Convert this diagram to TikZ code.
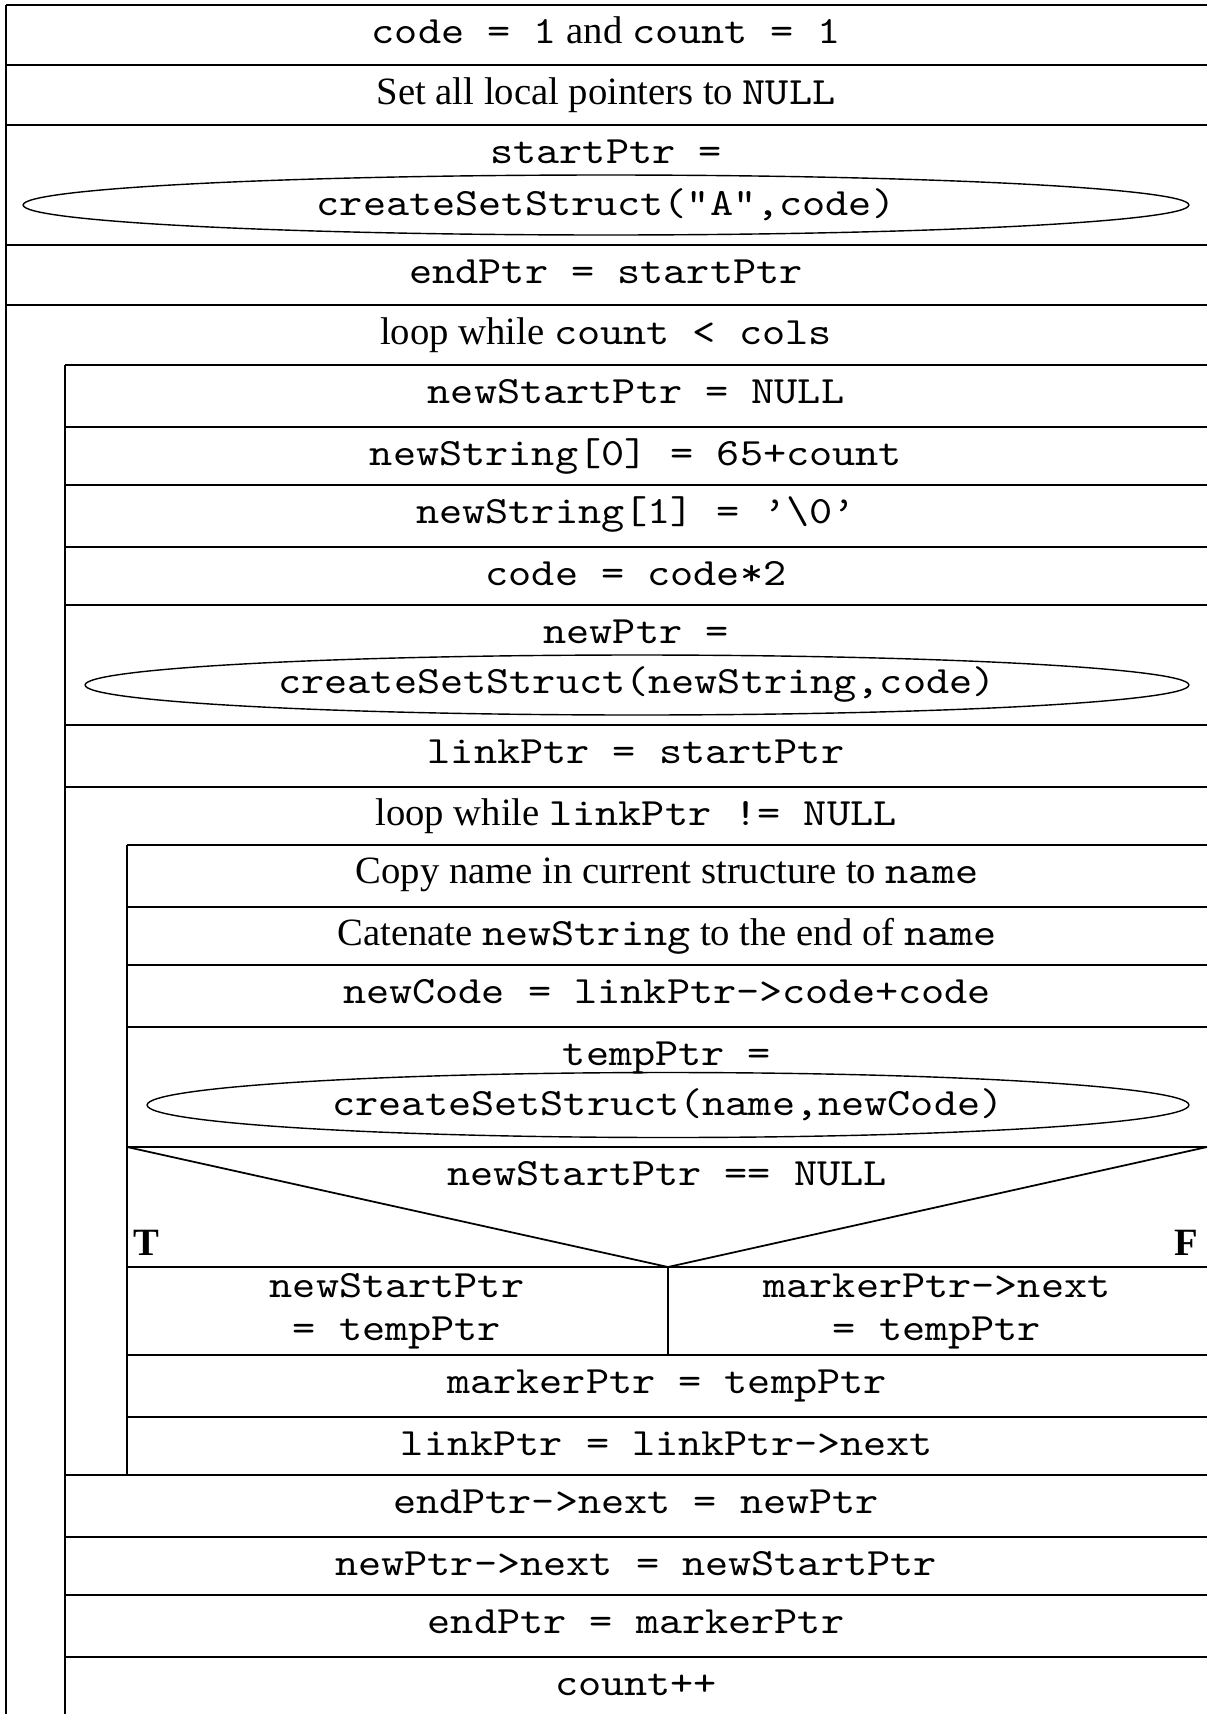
\documentclass[tikz,border=0pt]{standalone}
\usepackage{fontspec}
\setmainfont{Liberation Serif}
\setmonofont[FakeStretch=1.14]{lmmono10-regular.otf}
\usetikzlibrary{shapes.geometric}
\begin{document}
\begin{tikzpicture}[x=0.02cm,y=-0.02cm,line width=1pt,
  every node/.style={font=\fontsize{22}{26}\selectfont,inner sep=0pt},
  txt/.style={anchor=base},
  call/.style={draw,ellipse,line width=.8pt,inner sep=0pt,minimum height=1.2cm}]
\useasboundingbox (0,0) rectangle (1207,1714);
% frame
\draw (6,5) -- (6,1714);
\draw (65,365) -- (65,1714);
\draw (127,845) -- (127,1475);
\foreach \y in {5,65,125,245,305}
\draw (6,\y) -- (1207,\y);
\foreach \y in {365,427,485,547,605,725,787,1475,1537,1595,1657}
\draw (65,\y) -- (1207,\y);
\foreach \y in {845,907,965,1027,1147,1267,1355,1417}
\draw (127,\y) -- (1207,\y);
\draw (127,1147) -- (668,1267) -- (1207,1147);
\draw[line width=.6pt] (668,1267) -- (668,1355);
% outer block
\node[txt] (init) at (606,43) {\texttt{code = 1} and \texttt{count = 1}};
\node[txt] (ptrs) at (606,104) {Set all local pointers to \texttt{NULL}};
\node[txt] (start) at (606,163) {\texttt{startPtr =}};
\node[call,minimum width=23.32cm] (mkA) at (606,205) {\texttt{createSetStruct("A",code)}};
\node[txt] (endp) at (606,283) {\texttt{endPtr = startPtr}};
\node[txt] (loopA) at (606,344) {loop while \texttt{count < cols}};
% first loop
\node[txt] (nsp) at (636,403) {\texttt{newStartPtr = NULL}};
\node[txt] (str0) at (636,465) {\texttt{newString[0] = 65+count}};
\node[txt] (str1) at (636,523) {\texttt{newString[1] = ’\textbackslash 0’}};
\node[txt] (dbl) at (636,585) {\texttt{code = code*2}};
\node[txt] (newp) at (636,643) {\texttt{newPtr =}};
\node[call,minimum width=22.08cm] (mkN) at (637,685) {\texttt{createSetStruct(newString,code)}};
\node[txt] (link) at (636,763) {\texttt{linkPtr = startPtr}};
\node[txt] (loopB) at (636,825) {loop while \texttt{linkPtr != NULL}};
% second loop
\node[txt] (copy) at (667,883) {Copy name in current structure to \texttt{name}};
\node[txt] (cat) at (667,945) {Catenate \texttt{newString} to the end of \texttt{name}};
\node[txt] (ncode) at (667,1003) {\texttt{newCode = linkPtr->code+code}};
\node[txt] (temp) at (667,1065) {\texttt{tempPtr =}};
\node[call,minimum width=20.84cm,minimum height=1.3cm] (mkT) at (668,1105) {\texttt{createSetStruct(name,newCode)}};
\node[txt] (test) at (667,1185) {\texttt{newStartPtr == NULL}};
\node[anchor=base west] (yes) at (133,1255) {\textbf{T}};
\node[anchor=base east] (no) at (1199,1255) {\textbf{F}};
\node[txt] (yesA) at (397,1297) {\texttt{newStartPtr}};
\node[txt] (yesB) at (397,1340) {\texttt{= tempPtr}};
\node[txt] (noA) at (937,1297) {\texttt{markerPtr->next}};
\node[txt] (noB) at (937,1340) {\texttt{= tempPtr}};
\node[txt] (mark) at (667,1393) {\texttt{markerPtr = tempPtr}};
\node[txt] (adv) at (667,1455) {\texttt{linkPtr = linkPtr->next}};
% end of first loop
\node[txt] (join) at (636,1513) {\texttt{endPtr->next = newPtr}};
\node[txt] (tail) at (636,1575) {\texttt{newPtr->next = newStartPtr}};
\node[txt] (move) at (636,1633) {\texttt{endPtr = markerPtr}};
\node[txt] (inc) at (636,1695) {\texttt{count++}};
\end{tikzpicture}
\end{document}
